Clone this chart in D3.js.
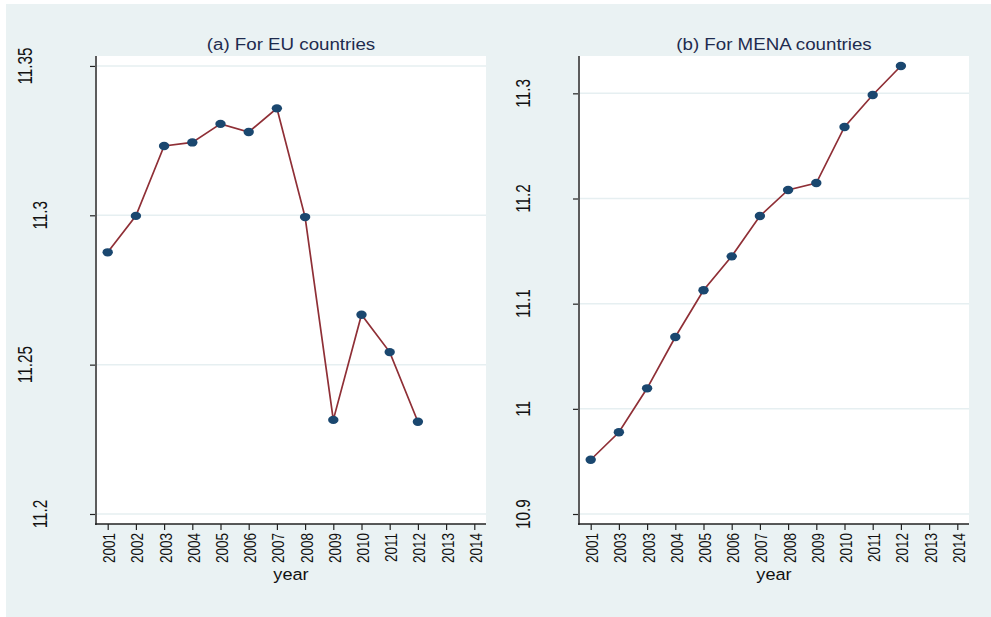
<!DOCTYPE html>
<html>
<head>
<meta charset="utf-8">
<script src="https://cdn.jsdelivr.net/npm/d3@7"></script>
<style>
  body { margin: 0; background: #fff; }
  text { font-family: "Liberation Sans", Arial, sans-serif; }
</style>
</head>
<body>
<svg width="991" height="617"></svg>
<script>
// data
var years = [2001, 2002, 2003, 2004, 2005, 2006, 2007, 2008, 2009, 2010, 2011, 2012];
var euValues = [11.2876, 11.2998, 11.3232, 11.3244, 11.3306, 11.3279, 11.3358, 11.2994, 11.2315, 11.2667, 11.2542, 11.2309];
var menaValues = [10.9516, 10.9777, 11.0195, 11.0683, 11.1127, 11.1450, 11.1833, 11.2081, 11.2147, 11.2680, 11.2984, 11.3260];

var tickYears = [2001, 2002, 2003, 2004, 2005, 2006, 2007, 2008, 2009, 2010, 2011, 2012, 2013, 2014];
var euYearLabels = ["2001", "2002", "2003", "2004", "2005", "2006", "2007", "2008", "2009", "2010", "2011", "2012", "2013", "2014"];
var menaYearLabels = ["2001", "2003", "2003", "2004", "2005", "2006", "2007", "2008", "2009", "2010", "2011", "2012", "2013", "2014"];
var euTicks = [11.2, 11.25, 11.3, 11.35];
var euTickLabels = ["11.2", "11.25", "11.3", "11.35"];
var menaTicks = [10.9, 11, 11.1, 11.2, 11.3];
var menaTickLabels = ["10.9", "11", "11.1", "11.2", "11.3"];

var svg = d3.select("svg");

// stata style background
svg.append("rect")
    .attr("x", 6).attr("y", 4)
    .attr("width", 985).attr("height", 613)
    .attr("fill", "#eaf2f3");

function drawPanel(p) {
  var x = d3.scaleLinear().domain([2000.585, 2014.415]).range([p.left, p.right]);
  var y = d3.scaleLinear().domain(p.ydomain).range([524, 56]);

  var g = svg.append("g");

  g.append("rect")
      .attr("x", p.left).attr("y", 56)
      .attr("width", p.right - p.left).attr("height", 524 - 56)
      .attr("fill", "#fff");

  // grid lines
  g.selectAll(".grid")
    .data(p.ticks)
    .enter().append("line")
      .attr("x1", p.left).attr("x2", p.right)
      .attr("y1", function(d) { return y(d); })
      .attr("y2", function(d) { return y(d); })
      .attr("stroke", "#e6eff1")
      .attr("stroke-width", 1.5);

  // y axis
  var yAxis = g.append("g")
      .attr("transform", "translate(" + p.left + ",0)")
      .call(d3.axisLeft(y).tickValues(p.ticks).tickSize(6).tickFormat(""));
  yAxis.select(".domain").remove();
  yAxis.selectAll(".tick line").attr("stroke", "#222").attr("stroke-width", 1.2);
  g.append("line")
      .attr("x1", p.left).attr("x2", p.left)
      .attr("y1", 56).attr("y2", 525)
      .attr("stroke", "#5c5c5c").attr("stroke-width", 2);

  g.selectAll(".ylab")
    .data(p.ticks)
    .enter().append("text")
      .attr("transform", function(d, i) {
        var cx = p.left - 56 - (p.tickLabels[i].length > 4 ? 15 : 0);
        return "translate(" + cx + "," + y(d) + ") scale(1.3,1) rotate(-90)";
      })
      .attr("text-anchor", "middle")
      .attr("dy", "0.35em")
      .attr("font-size", 15.3)
      .attr("fill", "#111")
      .text(function(d, i) { return p.tickLabels[i]; });

  // x axis
  var xAxis = g.append("g")
      .attr("transform", "translate(0,524)")
      .call(d3.axisBottom(x).tickValues(tickYears).tickSize(6).tickFormat(""));
  xAxis.select(".domain").remove();
  xAxis.selectAll(".tick line").attr("stroke", "#222").attr("stroke-width", 1.2);
  g.append("line")
      .attr("x1", p.left - 1).attr("x2", p.right)
      .attr("y1", 524).attr("y2", 524)
      .attr("stroke", "#222").attr("stroke-width", 1.5);

  g.selectAll(".xlab")
    .data(tickYears)
    .enter().append("text")
      .attr("transform", function(d) { return "translate(" + (x(d) + 1.5) + ",533) scale(1.25,1) rotate(-90)"; })
      .attr("text-anchor", "end")
      .attr("dy", "0.35em")
      .attr("font-size", 13.5)
      .attr("fill", "#111")
      .text(function(d, i) { return p.yearLabels[i]; });

  g.append("text")
      .attr("transform", "translate(" + (p.left + p.right) / 2 + ",580) scale(1.1,1)")
      .attr("text-anchor", "middle")
      .attr("font-size", 16.5)
      .attr("fill", "#111")
      .text("year");

  g.append("text")
      .attr("transform", "translate(" + (p.left + p.right) / 2 + ",50) scale(1.2,1)")
      .attr("text-anchor", "middle")
      .attr("font-size", 15.6)
      .attr("fill", "#1e2b4e")
      .text(p.title);

  // series
  var line = d3.line()
      .x(function(d, i) { return x(years[i]); })
      .y(function(d) { return y(d); });

  g.append("path")
      .datum(p.values)
      .attr("d", line)
      .attr("fill", "none")
      .attr("stroke", "#8f2f36")
      .attr("stroke-width", 1.7);

  g.selectAll(".pt")
    .data(p.values)
    .enter().append("ellipse")
      .attr("cx", function(d, i) { return x(years[i]); })
      .attr("cy", function(d) { return y(d); })
      .attr("rx", 5.2)
      .attr("ry", 4.2)
      .attr("fill", "#1a476f");
}

drawPanel({
  left: 96, right: 486,
  ydomain: [11.19665, 11.35333],
  ticks: euTicks, tickLabels: euTickLabels,
  yearLabels: euYearLabels,
  values: euValues,
  title: "(a) For EU countries"
});

drawPanel({
  left: 579, right: 969,
  ydomain: [10.8905, 11.3355],
  ticks: menaTicks, tickLabels: menaTickLabels,
  yearLabels: menaYearLabels,
  values: menaValues,
  title: "(b) For MENA countries"
});
</script>
</body>
</html>
